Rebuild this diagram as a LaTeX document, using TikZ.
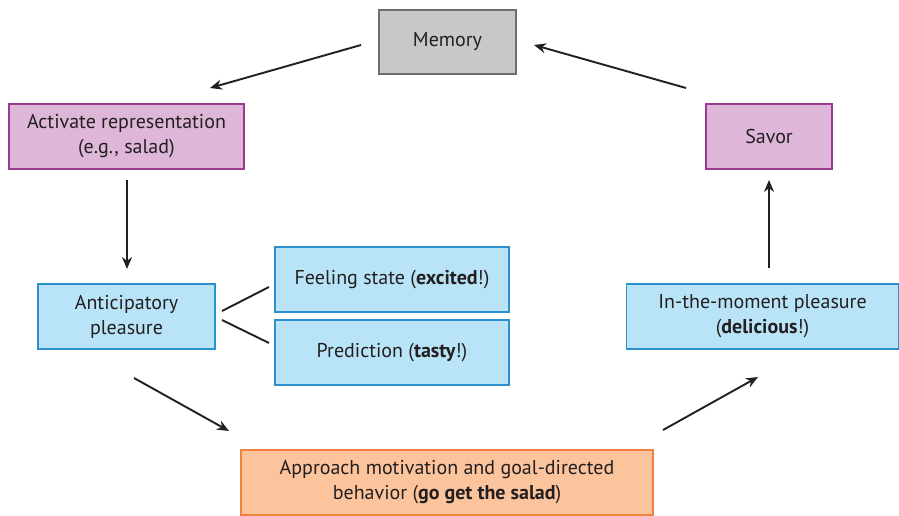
\documentclass[tikz,border=0pt]{standalone}
\usepackage{fontspec}
\setmainfont{PT Sans}
\usetikzlibrary{arrows.meta}
\definecolor{grayfill}{HTML}{C8C8C8}
\definecolor{graydraw}{HTML}{6E6E6E}
\definecolor{pinkfill}{HTML}{DEB7D8}
\definecolor{pinkdraw}{HTML}{9C3A91}
\definecolor{bluefill}{HTML}{B9E4F8}
\definecolor{bluedraw}{HTML}{2C90CF}
\definecolor{orfill}{HTML}{FCC49C}
\definecolor{ordraw}{HTML}{F0843C}
\definecolor{ink}{HTML}{231F20}
\tikzset{
  box/.style={draw, line width=1.2pt, inner sep=0pt, align=center, text=ink,
    font=\fontsize{20}{25}\selectfont},
  graybox/.style={box, fill=grayfill, draw=graydraw},
  pinkbox/.style={box, fill=pinkfill, draw=pinkdraw},
  bluebox/.style={box, fill=bluefill, draw=bluedraw},
  orbox/.style={box, fill=orfill, draw=ordraw},
  arr/.style={draw=ink, line width=1.9pt, -{Stealth[length=12pt,width=10pt]}},
  ln/.style={draw=ink, line width=1.9pt}
}
\begin{document}
\begin{tikzpicture}[x=1pt,y=-1pt]
\useasboundingbox (0,0) rectangle (899,516);
\node[graybox, minimum width=137pt, minimum height=64pt] (mem) at (447.5,42) {Memory};
\node[pinkbox, minimum width=235pt, minimum height=65pt] (act) at (126.5,136.5) {Activate representation\\(e.g., salad)};
\node[pinkbox, minimum width=126pt, minimum height=65pt] (sav) at (769,136.5) {Savor};
\node[bluebox, minimum width=177pt, minimum height=65pt] (ant) at (126.5,316.5) {Anticipatory\\pleasure};
\node[bluebox, minimum width=234pt, minimum height=65pt] (feel) at (392,279.5) {Feeling state (\textbf{excited}!)};
\node[bluebox, minimum width=234pt, minimum height=65pt] (pred) at (392,352.5) {Prediction (\textbf{tasty}!)};
\node[bluebox, minimum width=272pt, minimum height=65pt] (mom) at (762.5,316.5) {In-the-moment pleasure\\(\textbf{delicious}!)};
\node[orbox, minimum width=412pt, minimum height=65pt] (app) at (447,482.5) {Approach motivation and goal-directed\\behavior (\textbf{go get the salad})};

\coordinate (m1) at (361,45);
\coordinate (a1) at (210,88);
\coordinate (a2) at (127,180);
\coordinate (n1) at (127,269);
\coordinate (n2) at (134,378);
\coordinate (p1) at (229,431);
\coordinate (p2) at (663,430);
\coordinate (i1) at (758,377);
\coordinate (i2) at (769,268);
\coordinate (s1) at (769,180);
\coordinate (s2) at (686,88);
\coordinate (m2) at (534,45);
\coordinate (l1) at (222,311);
\coordinate (f1) at (269,287);
\coordinate (l2) at (222,320);
\coordinate (q1) at (269,343);

\draw[arr] (m1) -- (a1);
\draw[arr] (a2) -- (n1);
\draw[arr] (n2) -- (p1);
\draw[arr] (p2) -- (i1);
\draw[arr] (i2) -- (s1);
\draw[arr] (s2) -- (m2);
\draw[ln] (l1) -- (f1);
\draw[ln] (l2) -- (q1);
\end{tikzpicture}
\end{document}
